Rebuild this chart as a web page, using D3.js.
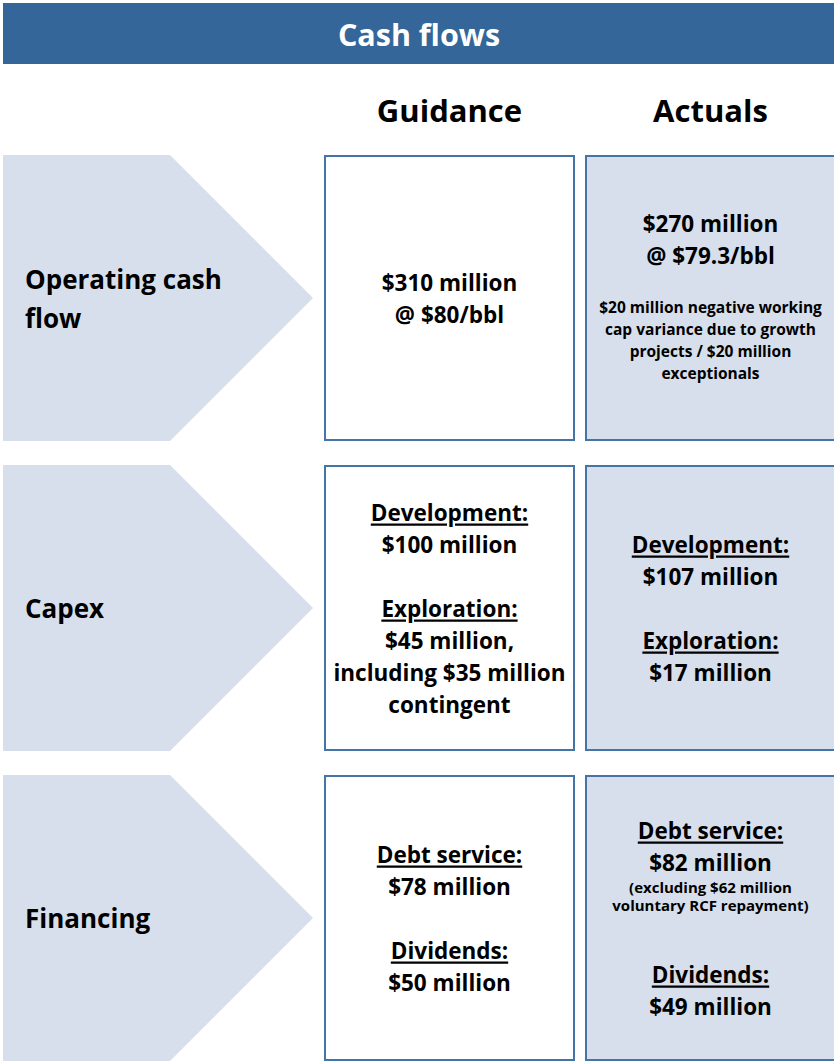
<!DOCTYPE html>
<html>
<head>
<meta charset="utf-8">
<script src="https://cdn.jsdelivr.net/npm/d3@7"></script>
<style>
  body { margin: 0; background: #fff; }
  svg { display: block; font-family: "Open Sans", Lato, sans-serif; font-weight: bold; }
</style>
</head>
<body>
<div id="chart"></div>
<script>
const title = "Cash flows"
const columns = ["Guidance", "Actuals"]
const rows = ["Operating cash flow", "Capex", "Financing"]
const rowLabels = [["Operating cash", "flow"], ["Capex"], ["Financing"]]

// "h" = underlined heading, "v" = value, "n" = note, "s" = small note, "" = blank line
const guidance = [
    [["v", "$310 million"], ["v", "@ $80/bbl"]],
    [["h", "Development:"], ["v", "$100 million"], [""], ["h", "Exploration:"], ["v", "$45 million,"], ["v", "including $35 million"], ["v", "contingent"]],
    [["h", "Debt service:"], ["v", "$78 million"], [""], ["h", "Dividends:"], ["v", "$50 million"]]
]
const actuals = [
    [["v", "$270 million"], ["v", "@ $79.3/bbl"], [""], ["n", "$20 million negative working"], ["n", "cap variance due to growth"], ["n", "projects / $20 million"], ["n", "exceptionals"]],
    [["h", "Development:"], ["v", "$107 million"], [""], ["h", "Exploration:"], ["v", "$17 million"]],
    [["h", "Debt service:"], ["v", "$82 million"], ["s", "(excluding $62 million"], ["s", "voluntary RCF repayment)"], [""], ["h", "Dividends:"], ["v", "$49 million"]]
]

const width = 834, height = 1063
const headerBlue = "#346699", paleBlue = "#d6dfeb", border = "#4574a6"
const fontSize = { h: 22.5, v: 22.5, n: 15.5, s: 15 }
const lineHeight = { h: 32, v: 32, n: 22, s: 18 }

const svg = d3.select("#chart").append("svg")
    .attr("width", width)
    .attr("height", height)

// title bar
svg.append("rect")
    .attr("x", 3).attr("y", 3)
    .attr("width", width - 3).attr("height", 61)
    .attr("fill", headerBlue)
svg.append("text")
    .attr("x", 419).attr("y", 34)
    .attr("text-anchor", "middle")
    .attr("dominant-baseline", "central")
    .attr("fill", "#fff")
    .style("font-size", "30.5px")
    .text(title)

const y = d3.scaleBand().domain(rows).range([155, 1061]).paddingInner(24 / 310)
const x = d3.scaleBand().domain(columns).range([324, 836]).paddingInner(10 / 261)

// column headers
svg.selectAll(".col-head")
    .data(columns)
    .enter().append("text")
    .attr("class", "col-head")
    .attr("x", d => x(d) + x.bandwidth() / 2)
    .attr("y", 110)
    .attr("text-anchor", "middle")
    .attr("dominant-baseline", "central")
    .style("font-size", "31px")
    .text(d => d)

// arrows
const shoulder = 170, tip = 313
const rowG = svg.selectAll(".row")
    .data(rows)
    .enter().append("g")
    .attr("class", "row")

rowG.append("path")
    .attr("fill", paleBlue)
    .attr("d", d => {
        const t = y(d), b = t + y.bandwidth()
        return `M3,${t}H${shoulder}L${tip},${(t + b) / 2}L${shoulder},${b}H3Z`
    })

rowG.append("text")
    .attr("x", 25)
    .style("font-size", "26px")
    .attr("dominant-baseline", "central")
    .selectAll("tspan")
    .data((d, i) => rowLabels[i].map((t, j, arr) => ({ t, row: d, j, n: arr.length })))
    .enter().append("tspan")
    .attr("x", 25)
    .attr("y", d => y(d.row) + y.bandwidth() / 2 + (d.j - (d.n - 1) / 2) * 39)
    .text(d => d.t)

// boxes
function layout(lines) {
    const out = []
    let pos = 0, prev = null, pending = 0
    lines.forEach((l, i) => {
        const type = l[0]
        if (type === "") {
            const next = lines[i + 1][0]
            pending = next === "n" ? 25 : (prev === "s" ? 44 : 32)
            return
        }
        if (prev) pos += (lineHeight[prev] + lineHeight[type]) / 2 + pending
        out.push({ type, text: l[1], pos })
        prev = type
        pending = 0
    })
    const mid = pos / 2
    out.forEach(o => o.pos -= mid)
    return out
}

const cells = []
rows.forEach((r, i) => {
    cells.push({ row: r, col: "Guidance", lines: guidance[i] })
    cells.push({ row: r, col: "Actuals", lines: actuals[i] })
})

const cell = svg.selectAll(".cell")
    .data(cells)
    .enter().append("g")
    .attr("class", "cell")
    .attr("transform", d => `translate(${x(d.col)},${y(d.row)})`)

cell.append("rect")
    .attr("x", 1).attr("y", 1)
    .attr("width", x.bandwidth() - 2)
    .attr("height", y.bandwidth() - 2)
    .attr("fill", d => d.col === "Actuals" ? paleBlue : "#fff")
    .attr("stroke", border)
    .attr("stroke-width", 2)

cell.selectAll(".line")
    .data(d => layout(d.lines))
    .enter().append("text")
    .attr("class", "line")
    .attr("x", x.bandwidth() / 2)
    .attr("y", d => y.bandwidth() / 2 + d.pos)
    .attr("text-anchor", "middle")
    .attr("dominant-baseline", "central")
    .attr("text-decoration", d => d.type === "h" ? "underline" : null)
    .style("font-size", d => fontSize[d.type] + "px")
    .text(d => d.text)
</script>
</body>
</html>
